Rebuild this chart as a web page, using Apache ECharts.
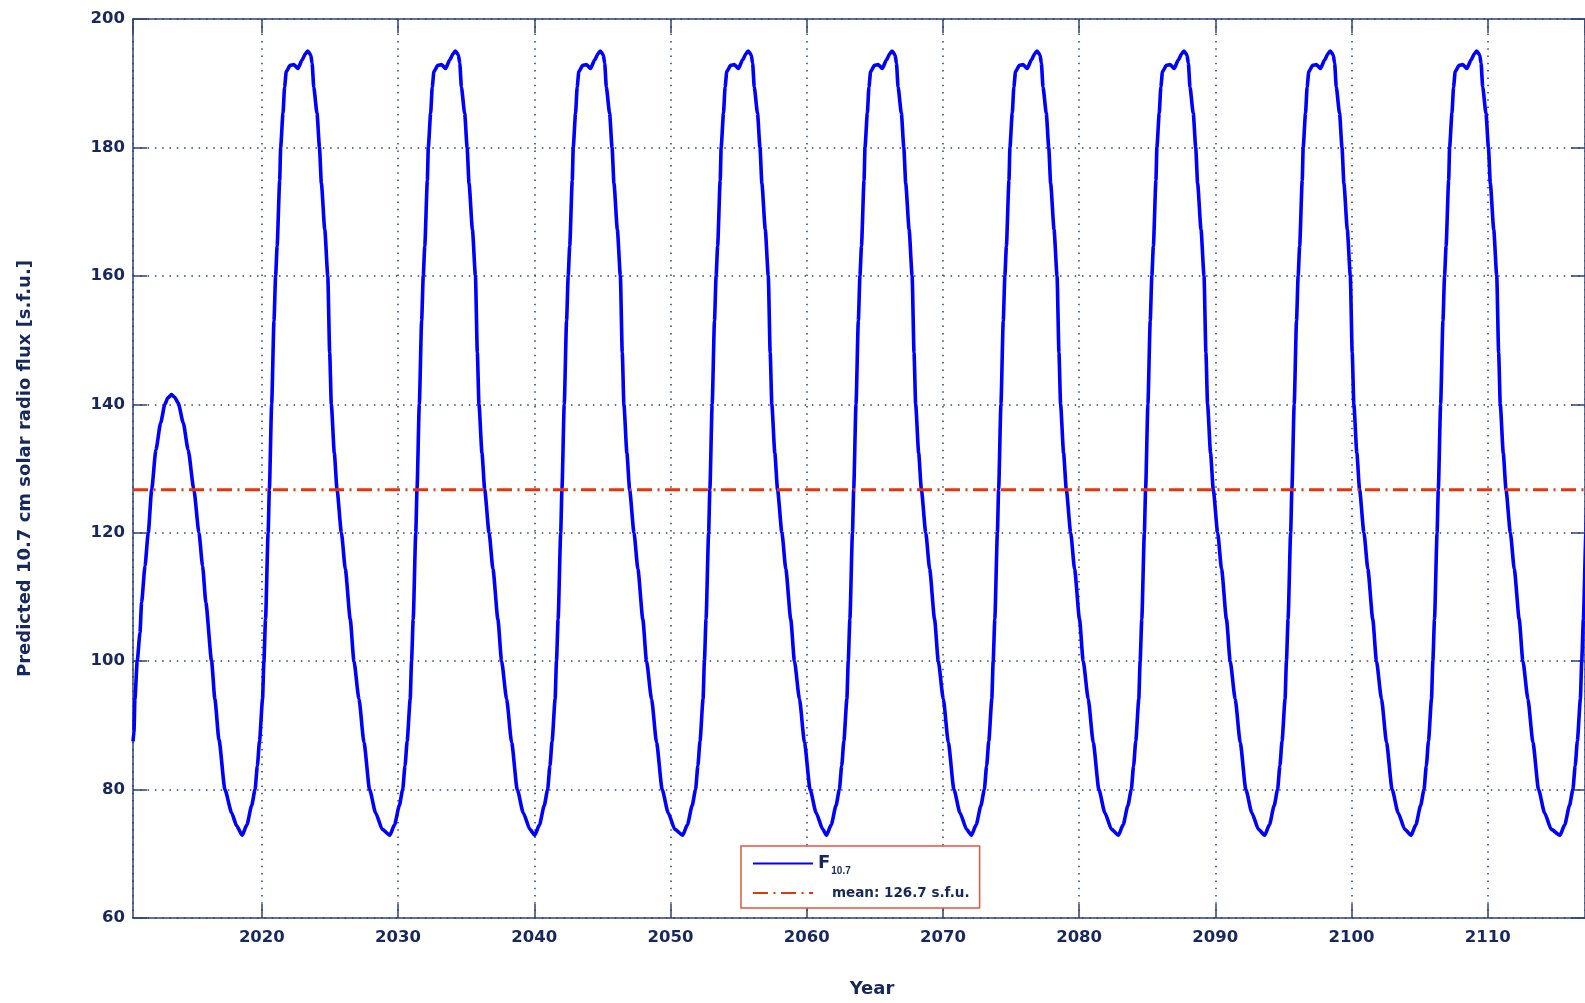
<!DOCTYPE html>
<html>
<head>
<meta charset="utf-8">
<title>Predicted 10.7 cm solar radio flux</title>
<script src="https://cdn.jsdelivr.net/npm/echarts@6/dist/echarts.min.js"></script>
<style>
  html, body { margin: 0; padding: 0; background: #fff; }
  #chart { width: 1585px; height: 1003px; }
</style>
</head>
<body>
<div id="chart"></div>
<script>
// x range
const xMin = 2010.54
const xMax = 2117.14
const meanValue = 126.7

// first (partial) cycle
const firstYears = [2010.54, 2010.61, 2010.68, 2010.85, 2011.05, 2011.17, 2011.42, 2011.66, 2011.91, 2012.22, 2012.57, 2012.88, 2013.1, 2013.37, 2013.6, 2013.86, 2014.23, 2014.59, 2015.01, 2015.38, 2015.65, 2015.89, 2016.31, 2016.55, 2016.85, 2017.29, 2017.78, 2018.14]
const firstValues = [87.5, 89, 94.1, 100, 104.4, 109.1, 114.8, 120, 126.7, 132.9, 137.1, 140, 141, 141.5, 141.1, 140.2, 137.1, 132.9, 126.7, 120, 114.8, 109.1, 100, 94.1, 87.8, 80, 76.4, 74.4]

// years of each cycle minimum
const cycleMinYears = [2018.55, 2029.39, 2040.03, 2050.89, 2061.45, 2072.09, 2082.88, 2093.62, 2104.37, 2115.3]

// shape of one full cycle: years after the minimum, flux
const cycleOffsets = [0, 0.35, 0.7, 0.95, 1.12, 1.28, 1.5, 1.6, 1.72, 1.91, 2.0, 2.17, 2.34, 2.46, 2.57, 2.76, 2.83, 3.0, 3.12, 3.24, 3.53, 3.8, 4.1, 4.4, 4.65, 4.82, 5.04, 5.14, 5.26, 5.5, 5.68, 5.82, 6.07, 6.29, 6.43, 6.55, 6.77, 6.97, 7.29, 7.58, 7.94, 8.21, 8.58, 8.95, 9.36, 9.8, 10.29]
const cycleValues = [72.9, 74.5, 77.5, 80, 83.7, 87.6, 94.1, 100, 106.5, 120, 126.7, 140, 153, 160, 164.6, 174.9, 180, 185.3, 189.4, 191.8, 192.8, 192.9, 192.3, 193.6, 194.6, 195.0, 194.4, 193.1, 189.4, 185.3, 180, 174.4, 167.2, 160, 148, 140, 132.4, 126.7, 120, 114.3, 106.5, 100, 94.1, 87.3, 80, 76.4, 73.8]

const textColor = '#17285c'
const axisColor = '#2e4279'
const font = 'DejaVu Sans'

let fluxData = firstYears.map((y, i) => [y, firstValues[i]])
cycleMinYears.forEach((start) => {
  cycleOffsets.forEach((off, i) => {
    fluxData.push([+(start + off).toFixed(2), cycleValues[i]])
  })
})

let chart = echarts.init(document.getElementById('chart'))

let gridLine = {
  show: true,
  lineStyle: { color: axisColor, width: 1.5, type: [1.5, 5.8] },
}
let frameAxis = {
  axisLine: { show: true, lineStyle: { color: axisColor, width: 1.5 } },
  axisTick: { show: true, inside: true, length: 14, lineStyle: { color: axisColor, width: 1.5 } },
}

chart.setOption({
  animation: false,
  backgroundColor: '#fff',
  grid: { left: 133, right: -1, top: 19, bottom: 84 },
  xAxis: [
    {
      type: 'value',
      min: xMin,
      max: xMax,
      splitNumber: 10,
      minInterval: 10,
      maxInterval: 10,
      ...frameAxis,
      axisLabel: {
        color: textColor,
        fontFamily: font,
        fontWeight: 'bold',
        fontSize: 16.5,
        margin: 11,
        showMinLabel: false,
        showMaxLabel: false,
        formatter: (v) => String(v),
      },
      splitLine: gridLine,
      name: 'Year',
      nameLocation: 'middle',
      nameGap: 62,
      nameTextStyle: {
        color: textColor,
        fontFamily: font,
        fontWeight: 'bold',
        fontSize: 18,
        padding: [0, 0, 0, 26],
      },
    },
    {
      type: 'value',
      position: 'top',
      min: xMin,
      max: xMax,
      splitNumber: 10,
      minInterval: 10,
      maxInterval: 10,
      ...frameAxis,
      axisLabel: { show: false },
      splitLine: { show: false },
    },
  ],
  yAxis: [
    {
      type: 'value',
      min: 60,
      max: 200,
      interval: 20,
      ...frameAxis,
      axisLabel: {
        color: textColor,
        fontFamily: font,
        fontWeight: 'bold',
        fontSize: 16.5,
        margin: 8,
      },
      splitLine: gridLine,
      name: 'Predicted 10.7 cm solar radio flux [s.f.u.]',
      nameLocation: 'middle',
      nameGap: 99,
      nameTextStyle: {
        color: textColor,
        fontFamily: font,
        fontWeight: 'bold',
        fontSize: 18,
      },
    },
    {
      type: 'value',
      position: 'right',
      min: 60,
      max: 200,
      interval: 20,
      ...frameAxis,
      axisLabel: { show: false },
      splitLine: { show: false },
    },
  ],
  legend: {
    orient: 'vertical',
    left: 741,
    top: 846,
    padding: [5, 10, 8, 11],
    itemGap: 10,
    itemWidth: 60,
    itemHeight: 14,
    backgroundColor: '#fff',
    borderColor: '#e4573c',
    borderWidth: 1.5,
    borderRadius: 0,
    itemStyle: { color: 'rgba(0,0,0,0)', borderColor: 'rgba(0,0,0,0)', borderWidth: 0 },
    textStyle: {
      color: textColor,
      fontFamily: font,
      fontWeight: 'bold',
      fontSize: 13.5,
      rich: {
        f: { color: textColor, fontFamily: font, fontWeight: 'bold', fontSize: 18, lineHeight: 18 },
        s: { color: textColor, fontFamily: 'Liberation Sans', fontWeight: 'bold', fontSize: 10, lineHeight: 18, padding: [15, 0, 0, 1] },
        m: { color: textColor, fontFamily: font, fontWeight: 'bold', fontSize: 13.5, padding: [0, 0, 0, 14] },
      },
    },
    formatter: (name) => (name === 'F10.7' ? '{f|F}{s|10.7}' : `{m|${name}}`),
  },
  series: [
    {
      name: 'F10.7',
      type: 'line',
      data: fluxData,
      showSymbol: false,
      symbol: 'none',
      smooth: 0.2,
      smoothMonotone: 'x',
      lineStyle: { color: '#0000ff', width: 3.6 },
      itemStyle: { color: '#0000ff' },
      z: 3,
    },
    {
      name: `mean: ${meanValue} s.f.u.`,
      type: 'line',
      data: [[xMin, meanValue], [xMax, meanValue]],
      showSymbol: false,
      symbol: 'none',
      lineStyle: { color: '#e2360e', width: 3, type: [15, 5.5, 2, 5.5] },
      itemStyle: { color: '#e2360e' },
      z: 4,
    },
  ],
})
</script>
</body>
</html>
